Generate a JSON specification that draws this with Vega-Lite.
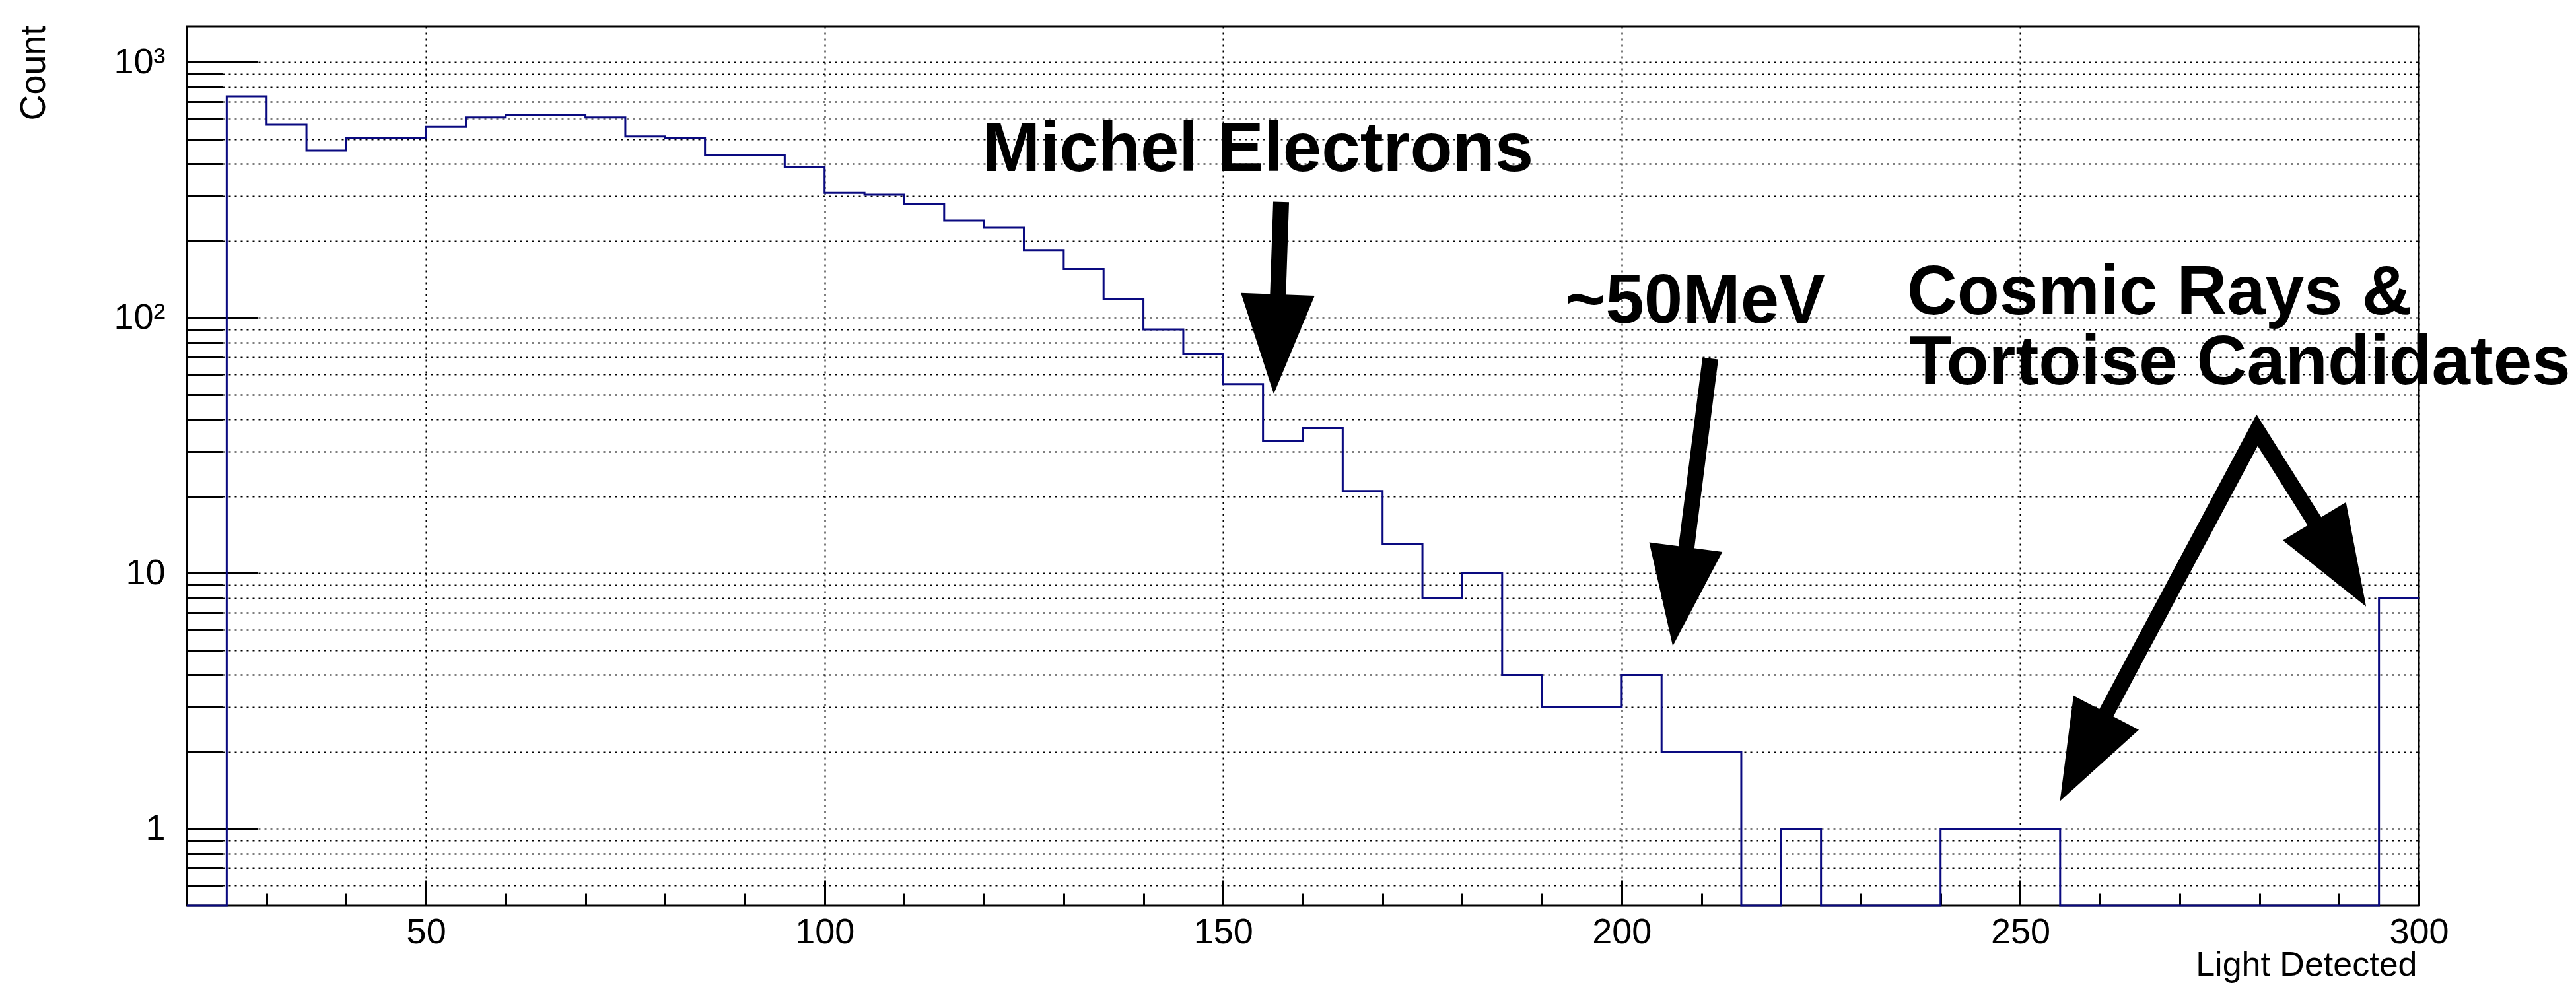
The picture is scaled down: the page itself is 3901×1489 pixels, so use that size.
{
  "$schema": "https://vega.github.io/schema/vega-lite/v6.json",
  "width": 3380,
  "height": 1332,
  "autosize": {"type": "none"},
  "padding": {"left": 283, "top": 40, "right": 238, "bottom": 117},
  "background": "white",
  "view": {"stroke": "black", "strokeWidth": 3},
  "config": {
    "font": "Liberation Sans",
    "axis": {
      "domain": false,
      "tickColor": "black",
      "tickWidth": 3,
      "labelColor": "black",
      "titleColor": "black",
      "labelFont": "Liberation Sans",
      "titleFont": "Liberation Sans",
      "labelFontSize": 54,
      "titleFontSize": 52,
      "titleFontWeight": "normal",
      "gridColor": "black",
      "gridDash": [3, 6],
      "gridWidth": 2,
      "gridOpacity": 1
    }
  },
  "datasets": {
    "hist": [
      {"lo": 20, "hi": 25, "count": 0},
      {"lo": 25, "hi": 30, "count": 735},
      {"lo": 30, "hi": 35, "count": 569},
      {"lo": 35, "hi": 40, "count": 451},
      {"lo": 40, "hi": 45, "count": 505},
      {"lo": 45, "hi": 50, "count": 505},
      {"lo": 50, "hi": 55, "count": 558},
      {"lo": 55, "hi": 60, "count": 608},
      {"lo": 60, "hi": 65, "count": 621},
      {"lo": 65, "hi": 70, "count": 621},
      {"lo": 70, "hi": 75, "count": 608},
      {"lo": 75, "hi": 80, "count": 512},
      {"lo": 80, "hi": 85, "count": 505},
      {"lo": 85, "hi": 90, "count": 434},
      {"lo": 90, "hi": 95, "count": 434},
      {"lo": 95, "hi": 100, "count": 390},
      {"lo": 100, "hi": 105, "count": 308},
      {"lo": 105, "hi": 110, "count": 303},
      {"lo": 110, "hi": 115, "count": 278},
      {"lo": 115, "hi": 120, "count": 240},
      {"lo": 120, "hi": 125, "count": 225},
      {"lo": 125, "hi": 130, "count": 184},
      {"lo": 130, "hi": 135, "count": 155},
      {"lo": 135, "hi": 140, "count": 118},
      {"lo": 140, "hi": 145, "count": 90},
      {"lo": 145, "hi": 150, "count": 72},
      {"lo": 150, "hi": 155, "count": 55},
      {"lo": 155, "hi": 160, "count": 33},
      {"lo": 160, "hi": 165, "count": 37},
      {"lo": 165, "hi": 170, "count": 21},
      {"lo": 170, "hi": 175, "count": 13},
      {"lo": 175, "hi": 180, "count": 8},
      {"lo": 180, "hi": 185, "count": 10},
      {"lo": 185, "hi": 190, "count": 4},
      {"lo": 190, "hi": 195, "count": 3},
      {"lo": 195, "hi": 200, "count": 3},
      {"lo": 200, "hi": 205, "count": 4},
      {"lo": 205, "hi": 210, "count": 2},
      {"lo": 210, "hi": 215, "count": 2},
      {"lo": 215, "hi": 220, "count": 0},
      {"lo": 220, "hi": 225, "count": 1},
      {"lo": 225, "hi": 230, "count": 0},
      {"lo": 230, "hi": 235, "count": 0},
      {"lo": 235, "hi": 240, "count": 0},
      {"lo": 240, "hi": 245, "count": 1},
      {"lo": 245, "hi": 250, "count": 1},
      {"lo": 250, "hi": 255, "count": 1},
      {"lo": 255, "hi": 260, "count": 0},
      {"lo": 260, "hi": 265, "count": 0},
      {"lo": 265, "hi": 270, "count": 0},
      {"lo": 270, "hi": 275, "count": 0},
      {"lo": 275, "hi": 280, "count": 0},
      {"lo": 280, "hi": 285, "count": 0},
      {"lo": 285, "hi": 290, "count": 0},
      {"lo": 290, "hi": 295, "count": 0},
      {"lo": 295, "hi": 300, "count": 8}
    ],
    "notes": [
      {"label": "Michel Electrons", "x": 119.8, "y": 375},
      {"label": "~50MeV", "x": 192.9, "y": 95.6},
      {"label": "Cosmic Rays &", "x": 235.8, "y": 103.3},
      {"label": "Tortoise Candidates", "x": 236.05, "y": 55.0}
    ],
    "shafts": [
      {"arrow": "michel", "seq": 1, "x": 157.27, "y": 283.8},
      {"arrow": "michel", "seq": 2, "x": 156.85, "y": 116.3},
      {"arrow": "mev", "seq": 1, "x": 211.12, "y": 69.3},
      {"arrow": "mev", "seq": 2, "x": 208.05, "y": 12.15},
      {"arrow": "cosmic", "seq": 1, "x": 260.32, "y": 2.667},
      {"arrow": "cosmic", "seq": 2, "x": 279.71, "y": 36.3},
      {"arrow": "cosmic", "seq": 3, "x": 287.33, "y": 15.22}
    ],
    "heads": [
      {"arrow": "michel", "x": 156.6, "y": 78.8, "angle": 2.3},
      {"arrow": "mev", "x": 207.22, "y": 8.11, "angle": 7.5},
      {"arrow": "cosmic-left", "x": 257.88, "y": 1.911, "angle": 27.6},
      {"arrow": "cosmic-right", "x": 290.14, "y": 10.88, "angle": -31.2}
    ]
  },
  "resolve": {"axis": {"x": "independent", "y": "independent"}},
  "layer": [
    {
      "data": {"name": "hist"},
      "transform": [{"fold": ["lo", "hi"], "as": ["edge", "pos"]}],
      "mark": {"type": "line", "color": "#0a0a80", "strokeWidth": 3, "interpolate": "linear"},
      "encoding": {
        "x": {
          "field": "pos", "type": "quantitative",
          "scale": {"domain": [20, 300], "nice": false, "zero": false},
          "axis": {
            "orient": "bottom",
            "values": [50, 100, 150, 200, 250, 300],
            "tickSize": -39,
            "labelPadding": 52,
            "labelFlush": false,
            "labelOverlap": false,
            "grid": true,
            "title": "Light Detected",
            "titleX": 3377,
            "titleY": 105,
            "titleAlign": "right",
            "titleBaseline": "alphabetic",
            "titleAnchor": "end"
          }
        },
        "y": {
          "field": "count", "type": "quantitative",
          "scale": {"type": "log", "domain": [0.5, 1380], "nice": false, "clamp": true},
          "axis": {
            "orient": "left",
            "values": [1, 10, 100, 1000],
            "tickSize": -107,
            "labelPadding": 140,
            "labelOverlap": false,
            "labelExpr": "datum.value >= 999 ? '10³' : datum.value >= 99 ? '10²' : datum.value >= 9 ? '10' : '1'",
            "grid": false,
            "title": "Count",
            "titleFontSize": 54,
            "titleAngle": -90,
            "titleX": -216,
            "titleY": -2,
            "titleAlign": "right",
            "titleBaseline": "alphabetic",
            "titleAnchor": "end"
          }
        },
        "order": [
          {"field": "pos", "type": "quantitative"},
          {"field": "edge", "type": "nominal"}
        ]
      }
    },
    {
      "data": {"name": "hist"},
      "transform": [{"fold": ["lo", "hi"], "as": ["edge", "pos"]}],
      "mark": {"type": "line", "strokeOpacity": 0, "strokeWidth": 1},
      "encoding": {
        "x": {
          "field": "pos", "type": "quantitative",
          "axis": {
            "orient": "bottom",
            "values": [30, 40, 60, 70, 80, 90, 110, 120, 130, 140, 160, 170, 180, 190, 210, 220, 230, 240, 260, 270, 280, 290],
            "tickSize": -19,
            "labels": false,
            "grid": false,
            "title": null
          }
        },
        "y": {
          "field": "count", "type": "quantitative",
          "axis": {
            "orient": "left",
            "values": [0.6, 0.7, 0.8, 0.9, 1, 2, 3, 4, 5, 6, 7, 8, 9, 10, 20, 30, 40, 50, 60, 70, 80, 90, 100, 200, 300, 400, 500, 600, 700, 800, 900, 1000],
            "tickSize": -54,
            "labels": false,
            "grid": true,
            "title": null
          }
        },
        "order": [
          {"field": "pos", "type": "quantitative"},
          {"field": "edge", "type": "nominal"}
        ]
      }
    },
    {
      "data": {"name": "notes"},
      "mark": {"type": "text", "font": "Liberation Sans", "fontWeight": "bold", "fontSize": 105, "align": "left", "baseline": "alphabetic", "color": "black"},
      "encoding": {
        "x": {"field": "x", "type": "quantitative", "axis": null},
        "y": {"field": "y", "type": "quantitative", "axis": null},
        "text": {"field": "label"}
      }
    },
    {
      "data": {"name": "shafts"},
      "mark": {"type": "line", "color": "black", "strokeWidth": 24, "strokeJoin": "miter", "strokeCap": "butt"},
      "encoding": {
        "x": {"field": "x", "type": "quantitative", "axis": null},
        "y": {"field": "y", "type": "quantitative", "axis": null},
        "detail": {"field": "arrow"},
        "order": {"field": "seq", "type": "quantitative"}
      }
    },
    {
      "data": {"name": "heads"},
      "mark": {"type": "point", "shape": "M-0.74,-1L0.74,-1L0,1Z", "size": 22801, "filled": true, "color": "black", "opacity": 1, "strokeWidth": 0},
      "encoding": {
        "x": {"field": "x", "type": "quantitative", "axis": null},
        "y": {"field": "y", "type": "quantitative", "axis": null},
        "angle": {"field": "angle", "type": "quantitative", "scale": null}
      }
    }
  ]
}
